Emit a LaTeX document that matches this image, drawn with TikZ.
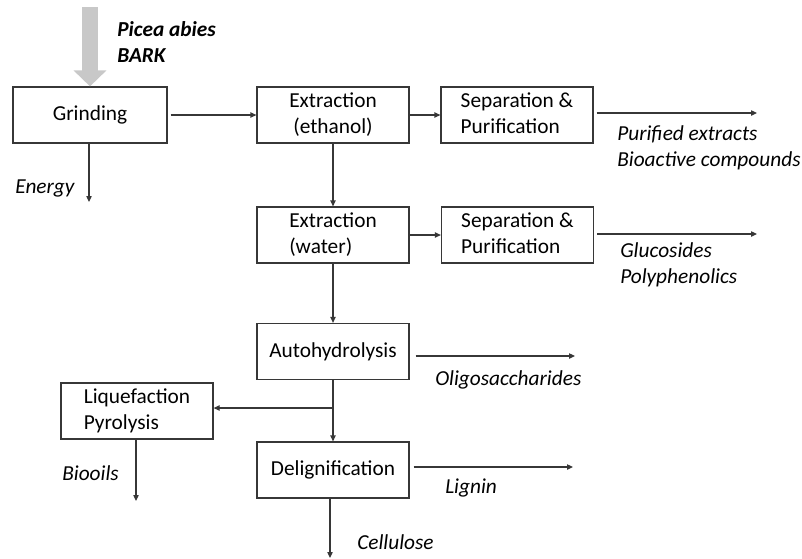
\documentclass[tikz,border=0pt]{standalone}
\usepackage{fontspec}
\setmainfont{Carlito}
\usetikzlibrary{arrows.meta}
\definecolor{barkgray}{RGB}{200,200,200}
\definecolor{linegray}{RGB}{55,55,55}

\tikzset{
    box/.style={draw=linegray, line width=0.9pt, minimum width=114pt, minimum height=42pt, inner sep=0pt, align=center, font=\fontsize{16}{19.5}\selectfont},
    product/.style={anchor=west, inner sep=0pt, align=left, font=\fontsize{16}{19.5}\selectfont\itshape},
    flow/.style={->, draw=linegray, line width=0.9pt}
}

\begin{document}
\begin{tikzpicture}[x=0.75pt, y=-0.75pt, >={Triangle[length=4.5pt,width=4pt]}]
    \useasboundingbox (0,0) rectangle (802,558);
    \node[box, minimum width=115.5pt] (grind) at (90,115) {Grinding};
    \node[box] (extEth) at (333,115) {Extraction\\(ethanol)};
    \node[box] (sepA) at (517,115) {\begin{tabular}{@{}l@{}}Separation \&\\Purification\end{tabular}};
    \node[box] (extWat) at (333,235) {\begin{tabular}{@{}l@{}}Extraction\\(water)\end{tabular}};
    \node[box] (sepB) at (517.5,235) {\begin{tabular}{@{}l@{}}Separation \&\\Purification\end{tabular}};
    \node[box] (autoh) at (333,351.5) {Autohydrolysis};
    \node[box] (liq) at (137,411) {\begin{tabular}{@{}l@{}}Liquefaction\\Pyrolysis\end{tabular}};
    \node[box] (delig) at (333,470) {Delignification};

    \node[product, font=\fontsize{16}{19.5}\selectfont\bfseries\itshape] (bark) at (117,42.5) {Picea abies\\BARK};
    \node[product] (energy) at (15,188) {Energy};
    \node[product] (extracts) at (617,147.5) {Purified extracts\\Bioactive compounds};
    \node[product] (phenolics) at (620,264.5) {Glucosides\\Polyphenolics};
    \node[product] (oligo) at (435,380) {Oligosaccharides};
    \node[product] (lignin) at (445,488) {Lignin};
    \node[product] (biooils) at (62,473) {Biooils};
    \node[product] (cellulose) at (357,542) {Cellulose};

    \coordinate (feed) at (90,7);
    \coordinate (energyEnd) at (89,202);
    \coordinate (extractsEnd) at (757,113);
    \coordinate (phenolicsEnd) at (757,234);
    \coordinate (oligoEnd) at (575,356);
    \coordinate (ligninEnd) at (573,467);
    \coordinate (split) at (333,408);
    \coordinate (biooilsEnd) at (136,501);
    \coordinate (celluloseEnd) at (330,558);

    \draw[line width=12pt, barkgray, -{Triangle[length=12pt,width=24pt]}] (feed) -- (grind.north);
    \draw[flow, shorten <=2.25pt] (grind.east) -- (extEth.west);
    \draw[flow] (grind.south -| energyEnd) -- (energyEnd);
    \draw[flow] (extEth.east) -- (sepA.west);
    \draw[flow] (extEth.south) -- (extWat.north);
    \draw[flow, shorten <=2.25pt] (sepA.east |- extractsEnd) -- (extractsEnd);
    \draw[flow] (extWat.east) -- (sepB.west);
    \draw[flow] (extWat.south) -- (autoh.north);
    \draw[flow, shorten <=2.25pt] (sepB.east |- phenolicsEnd) -- (phenolicsEnd);
    \draw[flow, shorten <=4.5pt] (autoh.east |- oligoEnd) -- (oligoEnd);
    \draw[flow] (autoh.south) -- (delig.north);
    \draw[flow] (split) -- (split -| liq.east);
    \draw[flow] (liq.south -| biooilsEnd) -- (biooilsEnd);
    \draw[flow, shorten <=3pt] (delig.east |- ligninEnd) -- (ligninEnd);
    \draw[flow] (delig.south -| celluloseEnd) -- (celluloseEnd);
\end{tikzpicture}
\end{document}
